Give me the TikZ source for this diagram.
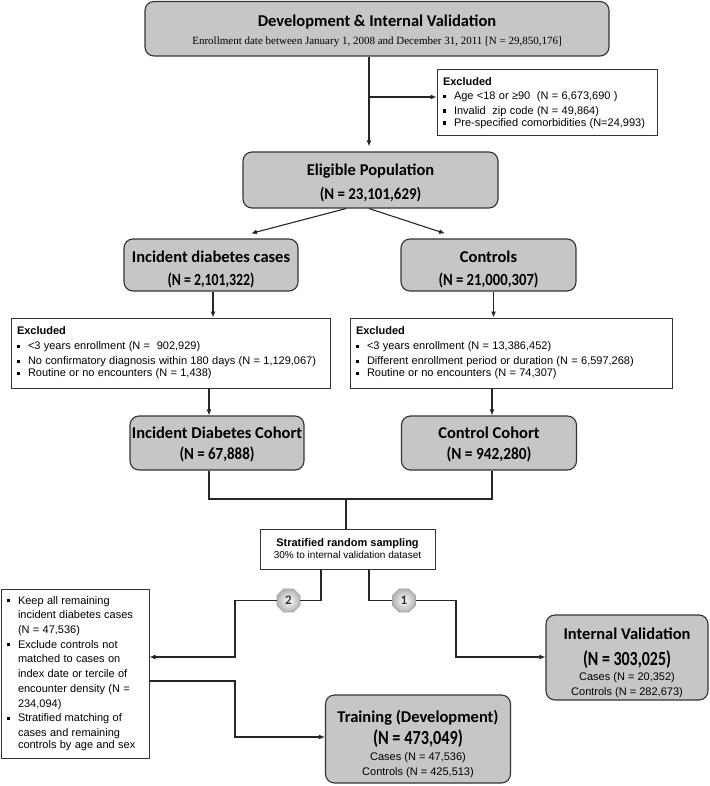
\documentclass[tikz,border=0pt]{standalone}
\usepackage{fontspec}
\usepackage{graphicx}
\setmainfont{Liberation Sans}
\newfontfamily\headfont{Carlito}
\newfontfamily\timesfont{Liberation Serif}
\usetikzlibrary{arrows.meta,shapes.geometric}
\newcommand\bul{\makebox[11pt][l]{\rule[2pt]{3.3pt}{3.3pt}}}
\newcommand\hd{\headfont\bfseries\fontsize{16.5}{0}\selectfont}
\newcommand\bd{\fontsize{11}{0}\selectfont}
\newcommand\glines{\fontsize{11}{0}\selectfont\lineskiplimit=-1000pt\relax\lineskip=0pt\relax}
\newcommand\sa[1]{\rule{0pt}{#1pt}}
\newcommand\sbt[1]{\rule[-#1pt]{0pt}{#1pt}}
\newlength\tmpw
\newcommand\nline[3]{\settowidth\tmpw{\headfont\bfseries\fontsize{#1}{0}\selectfont #3}%
  \pgfmathsetmacro\sfac{#2/\the\tmpw}%
  \scalebox{\sfac}[1]{\headfont\bfseries\fontsize{#1}{0}\selectfont #3}}
\begin{document}
\begin{tikzpicture}[x=1pt,y=-1pt,
  graybox/.style={draw=black!80, line width=1.1pt, fill=gray!45, rounded corners=9pt, align=center, inner sep=0pt, font=\glines},
  whitebox/.style={draw=black!80, line width=1pt, fill=white, align=left, inner xsep=6pt, inner ysep=0pt},
  conn/.style={line width=1.1pt, draw=black!85},
  arr/.style={conn, -{Latex[length=6pt,width=5pt]}},
  badge/.style={regular polygon, regular polygon sides=8, minimum size=25pt, inner sep=0pt, draw=gray!70, line width=0.7pt, inner color=white, outer color=gray!60, text=black!80, font=\headfont\bfseries\fontsize{13}{13}\selectfont}
]
\useasboundingbox (0,0) rectangle (709,786);

% gray boxes
\node[graybox, minimum width=464pt, minimum height=54.5pt] (top) at (377,28.75)
  {\sa{25.5}\hd Development \& Internal Validation\\[17.5pt]
   \sbt{11.5}\timesfont\fontsize{11}{0}\selectfont Enrollment date between January 1, 2008 and December 31, 2011 [N = 29,850,176]};
\node[graybox, minimum width=255pt, minimum height=56pt] (elig) at (370.5,180)
  {\sa{24}\hd Eligible Population\\[24pt]\sbt{8}\nline{16.5}{101.5}{(N = 23,101,629)}};
\node[graybox, minimum width=174pt, minimum height=52pt] (inc) at (211,265)
  {\sa{23.5}\hd Incident diabetes cases\\[22.5pt]\sbt{6}\nline{17}{87}{(N = 2,101,322)}};
\node[graybox, minimum width=175pt, minimum height=52pt] (ctrl) at (488.5,265)
  {\sa{23.5}\hd Controls\\[22.5pt]\sbt{6}\nline{17}{100}{(N = 21,000,307)}};
\node[graybox, minimum width=174pt, minimum height=54pt] (cohI) at (217,443)
  {\sa{22}\hd Incident Diabetes Cohort\\[21.5pt]\sbt{10.5}\nline{17}{75}{(N = 67,888)}};
\node[graybox, minimum width=175pt, minimum height=54pt] (cohC) at (489,443)
  {\sa{22}\hd Control Cohort\\[21.5pt]\sbt{10.5}\nline{17}{85}{(N = 942,280)}};
\node[graybox, minimum width=162pt, minimum height=85pt] (iv) at (627,657.5)
  {\sa{24.5}\hd Internal Validation\\[25.5pt]\nline{20}{88}{(N = 303,025)}\\[15pt]
   \bd Cases (N = 20,352)\\[15pt]\sbt{5}\bd Controls (N = 282,673)};
\node[graybox, minimum width=185pt, minimum height=88pt] (train) at (418,739)
  {\sa{27.5}\hd Training (Development)\\[22pt]\nline{20}{90}{(N = 473,049)}\\[15.5pt]
   \bd Cases (N = 47,536)\\[15pt]\sbt{8}\bd Controls (N = 425,513)};

% white boxes
\node[whitebox, minimum height=66pt, text width=208pt] (ex0) at (547,103)
  {\fontsize{11}{14.7}\selectfont\textbf{Excluded}\\
   \bul Age <18 or ≥90\ \ (N = 6,673,690 )\\
   \bul Invalid\ \ zip code (N = 49,864)\\
   \bul Pre-specified comorbidities (N=24,993)};
\node[whitebox, minimum height=70pt, text width=307pt] (exL) at (170.5,353)
  {\fontsize{11}{15}\selectfont\textbf{Excluded}\\
   \bul <3 years enrollment (N =\ \ 902,929)\\
   \bul No confirmatory diagnosis within 180 days (N = 1,129,067)\\
   \bul Routine or no encounters (N = 1,438)};
\node[whitebox, minimum height=70pt, text width=310pt] (exR) at (511,353)
  {\fontsize{11}{15}\selectfont\textbf{Excluded}\\
   \bul <3 years enrollment (N = 13,386,452)\\
   \bul Different enrollment period or duration (N = 6,597,268)\\
   \bul Routine or no encounters (N = 74,307)};
\node[whitebox, align=center, inner xsep=0pt, minimum width=175pt, minimum height=40pt] (strat) at (347.5,549)
  {\fontsize{11}{15}\selectfont\textbf{Stratified random sampling}\\ 30\% to internal validation dataset};
\node[whitebox, minimum height=169pt, text width=136pt] (left) at (75,673.5)
  {\fontsize{11}{14.7}\selectfont
   \bul Keep all remaining\\ \hspace*{11pt}incident diabetes cases\\ \hspace*{11pt}(N = 47,536)\\
   \bul Exclude controls not\\ \hspace*{11pt}matched to cases on\\ \hspace*{11pt}index date or tercile of\\ \hspace*{11pt}encounter density (N =\\ \hspace*{11pt}234,094)\\
   \bul Stratified matching of\\ \hspace*{11pt}cases and remaining\\ \hspace*{11pt}controls by age and sex};

% badges
\node[badge] (bd2) at (288.5,600.5) {2};
\node[badge] (bd1) at (404,600.5) {1};

% connectors
\draw[arr] ([xshift=-8pt]top.south) -- ([xshift=-1.5pt,yshift=5pt]elig.north);
\coordinate (j0) at (369,97);
\draw[arr] (j0) -- (j0 -| ex0.west);
\draw[arr] ([xshift=-24.5pt]elig.south) -- ([xshift=40pt,yshift=5pt]inc.north);
\draw[arr] ([xshift=-1.5pt]elig.south) -- ([xshift=-43.5pt,yshift=5pt]ctrl.north);
\draw[arr] ([xshift=2pt]inc.south) -- ([xshift=2pt]inc.south |- exL.north);
\draw[arr] ([xshift=5pt]ctrl.south) -- ([xshift=5pt]ctrl.south |- exR.north);
\draw[arr] ([xshift=-8pt]cohI.north |- exL.south) -- ([xshift=-8pt]cohI.north);
\draw[arr] ([xshift=3pt]cohC.north |- exR.south) -- ([xshift=3pt]cohC.north);
\coordinate (jn) at (346,499);
\draw[conn] ([xshift=-8pt]cohI.south) |- (jn) -| ([xshift=3pt]cohC.south);
\draw[conn] (jn) -- (jn |- strat.north);
\coordinate (b2) at (235,657);
\coordinate (b1) at (456,657);
\coordinate (b3) at (235,737);
\draw[conn] ([xshift=-26.5pt]strat.south) |- (bd2.east);
\draw[arr] (bd2.west) -| (b2) -- (b2 -| left.east);
\draw[conn] ([xshift=21.5pt]strat.south) |- (bd1.west);
\draw[arr] (bd1.east) -| (b1) -- (b1 -| iv.west);
\draw[arr] ([yshift=-7.5pt]left.east) -| (b3) -- (b3 -| train.west);
\end{tikzpicture}
\end{document}
